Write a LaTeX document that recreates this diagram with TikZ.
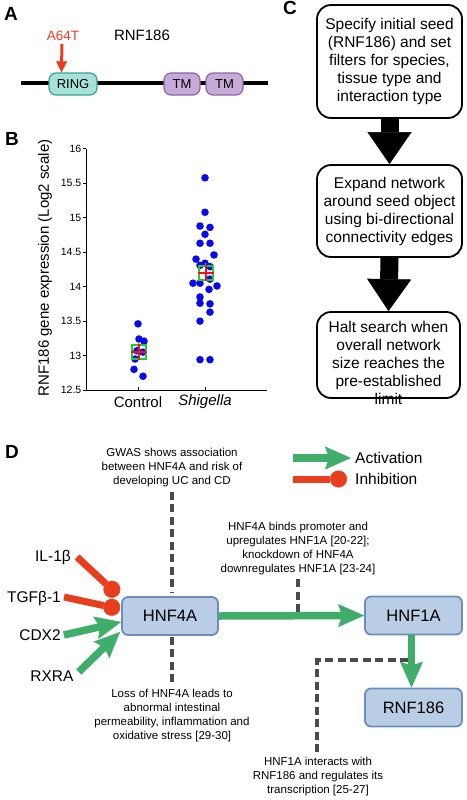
\documentclass[tikz,border=0pt]{standalone}
\usepackage{fontspec}
\setmainfont{Liberation Sans}
\usetikzlibrary{arrows.meta,calc}
\definecolor{actg}{RGB}{65,173,106}
\definecolor{inhr}{RGB}{232,62,30}
\definecolor{boxf}{RGB}{185,205,229}
\definecolor{boxd}{RGB}{108,142,191}
\definecolor{ringf}{RGB}{166,226,216}
\definecolor{ringd}{RGB}{60,160,148}
\definecolor{tmf}{RGB}{200,170,216}
\definecolor{tmd}{RGB}{140,100,170}
\definecolor{dotb}{RGB}{10,10,235}
\definecolor{dashg}{RGB}{75,75,75}
\definecolor{meang}{RGB}{40,200,40}
\definecolor{meanr}{RGB}{240,20,20}
\definecolor{meano}{RGB}{200,140,40}
\begin{document}
\begin{tikzpicture}[x=1pt,y=-1pt,
  panel/.style={font=\fontsize{19}{19}\selectfont\bfseries, inner sep=0},
  dom/.style={rounded corners=7pt, line width=1.2pt, minimum height=22pt, inner sep=0, font=\fontsize{13}{13}\selectfont},
  flow/.style={draw, line width=1.8pt, rounded corners=14pt, minimum width=145pt, align=center, inner sep=0, font=\fontsize{15.5}{18}\selectfont},
  ftext/.style={align=center, inner sep=0, font=\fontsize{15.5}{18}\selectfont},
  bigarrow/.style={line width=18pt, -{Triangle[length=32pt,width=44pt,line width=0.5pt]}},
  gene/.style={draw=boxd, fill=boxf, line width=1.8pt, rounded corners=6pt, minimum width=96pt, minimum height=38pt, inner sep=0, font=\fontsize{16.5}{18}\selectfont},
  note/.style={align=center, inner sep=0, font=\fontsize{11.5}{14}\selectfont},
  lbl/.style={inner sep=0, font=\fontsize{15.5}{18}\selectfont},
  act/.style={draw=actg, line width=7.5pt, -{Stealth[length=26pt,width=23pt,inset=4pt,line width=0.5pt]}},
  inh/.style={draw=inhr, line width=7pt, -{Circle[length=17pt,width=17pt,line width=0.5pt]}},
  dashline/.style={draw=dashg, line width=3.2pt, dash pattern=on 8pt off 4.5pt},
  tick/.style={inner sep=0, font=\fontsize{10.5}{12}\selectfont},
  axlbl/.style={inner sep=0, font=\fontsize{15}{18}\selectfont}
]
\useasboundingbox (0,0) rectangle (466,800);

% ---------------- Panel A ----------------
\node[panel] (pa) at (11,14) {A};
\draw[line width=4pt] (21,83) -- (268,83);
\node[dom, draw=ringd, fill=ringf, minimum width=48pt] (ring) at (73,84) {RING};
\node[dom, draw=tmd, fill=tmf, minimum width=36pt] (tm1) at (182,84) {TM};
\node[dom, draw=tmd, fill=tmf, minimum width=37pt] (tm2) at (224.5,84) {TM};
\node[inner sep=0, text=inhr, font=\fontsize{13.5}{14}\selectfont] (a64t) at (63,36) {A64T};
\node[inner sep=0, font=\fontsize{15}{16}\selectfont] (rnfa) at (142,35) {RNF186};
\draw[inhr, line width=3pt, -{Triangle[length=11pt,width=11pt,line width=0.5pt]}]
  ($(a64t.south)+(-1,3)$) -- ($(ring.north west)+(13,0)$);

% ---------------- Panel B ----------------
\node[panel] (pb) at (12,139) {B};
\draw[line width=0.9pt] (86,149) -- (86,390) -- (267,390);
\foreach \v in {12.5,13,13.5,14,14.5,15,15.5,16} {
  \draw[line width=0.9pt] (86,{390-(\v-12.5)*68.9}) -- (83,{390-(\v-12.5)*68.9});
  \node[tick, anchor=east] at (81.5,{390-(\v-12.5)*68.9}) {\v};
}
\draw[line width=0.9pt] (138,390) -- (138,387) (205,390) -- (205,387);
\node[axlbl] (ctl) at (138,402) {Control};
\node[axlbl] (shg) at (205,402) {\itshape Shigella};
\node[axlbl, rotate=90] (ylab) at (45,268) {RNF186 gene expression (Log2 scale)};
% data points
\foreach \xx/\vv in {138/13.46,139/13.24,144/13.21,137/13.07,143/13.05,135/12.95,134/12.80,143/12.70,
  205/15.58,205/15.08,200/14.88,210/14.86,205/14.76,200/14.63,210/14.63,214/14.46,196/14.40,
  205/14.34,200/14.31,210/14.29,193/14.05,200/14.05,210/14.11,217/14.01,209/13.96,
  200/13.85,200/13.76,210/13.75,210/13.63,200/13.50,200/12.94,210/12.94} {
  \fill[dotb] (\xx,{390-(\vv-12.5)*68.9}) circle[radius=3.8];
}
% mean markers
\foreach \cx/\cv in {139/13.05,206/14.2} {
  \draw[meang, line width=1.3pt] (\cx-7,{390-(\cv-12.5)*68.9-7}) rectangle (\cx+7,{390-(\cv-12.5)*68.9+7});
  \draw[meano, line width=0.8pt] (\cx-1,{390-(\cv-12.5)*68.9-10}) -- (\cx-1,{390-(\cv-12.5)*68.9+6});
  \draw[meanr, line width=1.5pt] (\cx-8,{390-(\cv-12.5)*68.9}) -- (\cx+8,{390-(\cv-12.5)*68.9})
        (\cx,{390-(\cv-12.5)*68.9-8}) -- (\cx,{390-(\cv-12.5)*68.9+8});
}

% ---------------- Panel C ----------------
\node[panel] (pc) at (290,8) {C};
\node[flow, minimum height=113pt] (c1) at (389.5,61.5) {Specify initial seed\\(RNF186) and set\\filters for species,\\tissue type and\\interaction type};
\node[flow, minimum height=92pt] (c2) at (389.5,211) {Expand network\\around seed object\\using bi-directional\\connectivity edges};
\node[draw, line width=1.8pt, rounded corners=14pt, minimum width=143pt, minimum height=86pt, inner sep=0] (c3) at (388.5,355) {};
\node[ftext] (c3t) at (388.5,362.5) {Halt search when\\overall network\\size reaches the\\pre-established\\limit};
\draw[bigarrow] (c1.south) -- (c2.north);
\draw[bigarrow] (c2.south) -- (c3.north);

% ---------------- Panel D ----------------
\node[panel] (pd) at (12,452) {D};
\node[gene] (hnf4a) at (170,616) {HNF4A};
\node[gene, minimum width=97pt] (hnf1a) at (413.5,615.5) {HNF1A};
\node[gene, minimum width=97pt] (rnf) at (413.5,707.5) {RNF186};

\node[lbl] (il) at (53,557) {IL-1β};
\node[lbl] (tgf) at (34,598) {TGFβ-1};
\node[lbl] (cdx) at (40,635) {CDX2};
\node[lbl] (rxra) at (52,676) {RXRA};

\draw[inh] ($(il.east)+(6,0)$) -- ($(hnf4a.north west)+(-3,-1)$);
\draw[inh] ($(tgf.east)+(3,-1)$) -- ($(hnf4a.north west)+(-1,13)$);
\draw[act] ($(cdx.east)+(3,0)$) -- ($(hnf4a.west)+(0,6)$);
\draw[act] ($(rxra.east)+(5,-4)$) -- ($(hnf4a.south west)+(-1,-4)$);

\draw[act] (hnf4a.east) -- (hnf1a.west);
\draw[act] ($(hnf1a.south)+(-2,0)$) -- ($(rnf.north)+(-2,0)$);

% legend
\coordinate (la1) at (293,458);
\coordinate (la2) at (351,458);
\coordinate (li1) at (293,479);
\coordinate (li2) at (347,479);
\draw[act] (la1) -- (la2);
\draw[inh] (li1) -- (li2);
\node[lbl, anchor=west] (lact) at (355,458) {Activation};
\node[lbl, anchor=west] (linh) at (355,479) {Inhibition};

% notes
\node[note] (gwas) at (172,468) {GWAS shows association\\between HNF4A and risk of\\developing UC and CD};
\node[note] (binds) at (298,548.5) {HNF4A binds promoter and\\upregulates HNF1A [20-22];\\knockdown of HNF4A\\downregulates HNF1A [23-24]};
\node[note] (loss) at (172,716) {Loss of HNF4A leads to\\abnormal intestinal\\permeability, inflammation and\\oxidative stress [29-30]};
\node[note] (inter) at (318,777) {HNF1A interacts with\\RNF186 and regulates its\\transcription [25-27]};

\coordinate (bindsend) at (298,612);
\coordinate (interstart) at (408,660);
\draw[dashline] ($(gwas.south)+(0,4)$) -- ($(hnf4a.north)+(2,-4)$);
\draw[dashline] ($(binds.south)+(0,4)$) -- (bindsend);
\draw[dashline] ($(hnf4a.south)+(2,1)$) -- ($(loss.north)+(0,-5)$);
\draw[dashline] (interstart) -| ($(inter.north)+(-1,-3)$);
\end{tikzpicture}
\end{document}
